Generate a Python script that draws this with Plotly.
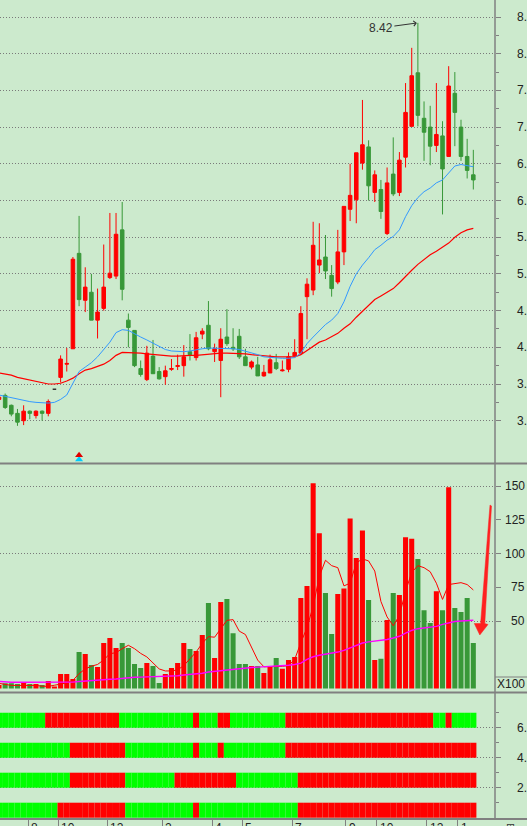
import plotly.graph_objects as go

# ---- data (weekly bars, index 0..77) ----
bar_idx = list(range(78))

opens = [3.29, 3.345, 3.21, 3.10, 3.00, 3.13, 3.07, 3.13, 3.10, 3.43,
         3.59, 3.77, 3.98, 5.28, 4.64, 4.75, 4.37, 4.53, 4.95, 4.97,
         5.60, 4.37, 4.23, 3.71, 3.56, 3.88, 3.67, 3.60, 3.70, 3.74,
         3.75, 3.94, 3.86, 4.18, 4.30, 3.94, 3.82, 4.14, 4.00, 4.15,
         3.87, 3.73, 3.76, 3.61, 3.65, 3.79, 3.68, 3.70, 3.88, 3.92,
         4.69, 4.78, 5.12, 5.23, 4.98, 4.89, 5.30, 5.88, 6.01, 6.51,
         6.73, 6.11, 6.15, 5.55, 6.36, 6.11, 6.59, 7.01, 7.74, 7.12,
         7.00, 6.75, 6.88, 6.60, 7.46, 7.00, 6.60, 6.35]
highs = [3.33, 3.37, 3.22, 3.16, 3.21, 3.14, 3.14, 3.14, 3.29, 3.43,
         3.89, 3.99, 5.23, 5.79, 5.09, 5.00, 4.80, 5.40, 5.83, 5.83,
         5.98, 4.46, 4.23, 3.82, 4.02, 4.10, 3.73, 3.75, 3.84, 3.90,
         4.03, 4.18, 4.21, 4.26, 4.63, 4.05, 4.26, 4.52, 4.26, 4.25,
         3.98, 3.82, 3.87, 3.76, 3.90, 3.91, 3.82, 3.93, 4.11, 4.56,
         4.94, 5.71, 5.69, 5.53, 5.12, 5.60, 5.92, 6.50, 6.65, 7.37,
         6.82, 6.41, 6.28, 6.45, 6.86, 6.66, 7.60, 8.08, 8.42, 7.35,
         7.29, 7.60, 7.08, 7.83, 7.75, 7.10, 6.84, 6.69]
lows = [3.27, 3.16, 3.06, 2.93, 2.94, 3.02, 3.03, 3.00, 3.06, 3.43,
        3.52, 3.67, 3.98, 4.56, 4.48, 4.37, 4.12, 4.50, 4.93, 4.93,
        4.64, 4.00, 3.73, 3.60, 3.54, 3.64, 3.56, 3.49, 3.68, 3.69,
        3.60, 3.82, 3.82, 4.11, 3.96, 3.80, 3.32, 4.02, 3.95, 3.84,
        3.75, 3.70, 3.61, 3.60, 3.65, 3.69, 3.67, 3.66, 3.88, 3.91,
        4.11, 4.71, 5.01, 4.93, 4.69, 4.86, 5.12, 5.72, 5.69, 6.42,
        6.00, 5.98, 5.75, 5.53, 6.06, 6.06, 6.45, 7.01, 7.01, 6.54,
        6.48, 6.66, 5.81, 6.60, 6.74, 6.54, 6.30, 6.15]
closes = [3.32, 3.18, 3.09, 2.98, 3.13, 3.10, 3.13, 3.10, 3.26, 3.43,
          3.84, 3.78, 5.20, 4.65, 4.82, 4.37, 4.48, 4.82, 5.01, 5.54,
          4.79, 4.27, 3.75, 3.63, 3.92, 3.64, 3.57, 3.68, 3.71, 3.75,
          3.87, 3.90, 4.13, 4.22, 3.98, 3.98, 4.11, 4.05, 3.98, 3.87,
          3.75, 3.80, 3.61, 3.66, 3.83, 3.71, 3.69, 3.87, 3.93, 4.46,
          4.86, 5.39, 5.19, 5.04, 4.80, 5.30, 5.92, 6.07, 6.65, 6.76,
          6.20, 6.35, 5.85, 6.24, 6.09, 6.55, 7.20, 7.70, 7.16, 6.93,
          6.74, 6.90, 6.43, 7.56, 7.20, 6.60, 6.41, 6.28]

ma_fast = [3.35, 3.33, 3.31, 3.29, 3.28, 3.26, 3.25, 3.24, 3.24, 3.25,
           3.29, 3.35, 3.52, 3.67, 3.73, 3.79, 3.87, 3.97, 4.07, 4.20,
           4.24, 4.23, 4.18, 4.14, 4.10, 4.06, 4.01, 3.97, 3.95, 3.94,
           3.94, 3.95, 3.97, 3.98, 3.99, 3.99, 3.99, 3.99, 3.98, 3.97,
           3.95, 3.93, 3.90, 3.87, 3.86, 3.86, 3.85, 3.85, 3.86, 3.92,
           4.05, 4.14, 4.23, 4.31, 4.37, 4.46, 4.62, 4.83, 5.00, 5.12,
           5.22, 5.33, 5.39, 5.46, 5.51, 5.60, 5.78, 5.93, 6.04, 6.12,
           6.17, 6.24, 6.28, 6.37, 6.47, 6.49, 6.48, 6.46]
ma_slow = [3.65, 3.64, 3.62, 3.59, 3.57, 3.56, 3.53, 3.52, 3.50, 3.50,
           3.51, 3.54, 3.58, 3.64, 3.69, 3.71, 3.74, 3.77, 3.82, 3.89,
           3.93, 3.93, 3.93, 3.92, 3.91, 3.90, 3.89, 3.88, 3.88, 3.88,
           3.89, 3.89, 3.89, 3.90, 3.91, 3.92, 3.92, 3.92, 3.92, 3.92,
           3.91, 3.90, 3.89, 3.88, 3.88, 3.87, 3.87, 3.87, 3.87, 3.90,
           3.96, 4.02, 4.07, 4.10, 4.14, 4.19, 4.26, 4.32, 4.41, 4.49,
           4.57, 4.65, 4.70, 4.75, 4.80, 4.88, 4.97, 5.05, 5.13, 5.20,
           5.26, 5.31, 5.36, 5.42, 5.50, 5.56, 5.60, 5.62]

volume = [2.6, 3.8, 3.8, 3.3, 4.8, 3.3, 3.3, 2.6, 5.6, 1.3,
          10.7, 10.7, 7.0, 27.0, 25.5, 17.4, 15.9, 33.7, 37.4, 30.0,
          33.7, 30.0, 18.1, 15.2, 18.9, 16.7, 4.1, 10.7, 15.2, 18.9,
          33.7, 29.3, 27.8, 39.6, 63.3, 22.6, 64.0, 66.3, 41.0, 18.1,
          18.1, 16.7, 16.7, 11.5, 16.7, 22.6, 14.7, 21.1, 23.3, 67.0,
          76.0, 152.0, 115.0, 70.7, 40.4, 70.0, 74.0, 126.0, 96.7, 117.0,
          65.6, 21.1, 22.0, 50.7, 70.7, 69.3, 112.0, 111.0, 95.9, 58.0,
          48.5, 72.0, 58.0, 149.0, 59.6, 56.7, 67.0, 33.7]
vol_ma_short = [3.8, 2.8, 2.3, 2.3, 2.3, 2.3, 2.3, 1.7, 1.6, 2.4,
                3.3, 4.2, 6.0, 11.0, 14.5, 16.5, 17.8, 21.2, 25.8, 26.5,
                29.5, 32.0, 29.5, 26.0, 23.4, 18.7, 14.5, 13.0, 13.0, 13.8,
                17.0, 22.0, 27.0, 33.5, 38.4, 38.0, 44.0, 50.5, 51.0, 42.5,
                40.0, 31.0, 21.0, 16.1, 16.1, 16.1, 16.4, 17.0, 21.5, 34.0,
                45.0, 61.0, 83.0, 95.0, 91.0, 89.5, 76.0, 78.0, 93.0, 96.0,
                94.5, 87.0, 64.5, 53.0, 46.5, 54.0, 72.0, 86.0, 91.0, 89.5,
                86.5, 78.0, 66.0, 77.0, 77.8, 78.4, 77.0, 73.0]
vol_ma_long = [5.3, 4.8, 4.6, 4.6, 4.6, 4.6, 4.6, 4.6, 4.6, 4.6,
               4.6, 4.6, 4.7, 5.2, 5.6, 5.8, 6.2, 6.4, 6.8, 7.0,
               7.5, 8.2, 8.3, 8.4, 8.5, 8.9, 9.0, 9.1, 9.2, 9.4,
               10.0, 10.4, 10.8, 11.3, 12.2, 12.7, 13.0, 14.0, 14.5, 14.9,
               15.0, 15.6, 15.8, 16.0, 16.4, 16.6, 16.8, 17.2, 17.8, 18.8,
               21.5, 23.5, 24.6, 25.3, 26.0, 27.0, 28.3, 30.2, 32.0, 33.7,
               34.5, 35.0, 35.5, 36.3, 37.4, 38.7, 41.0, 43.0, 44.3, 44.9,
               45.1, 46.0, 47.5, 48.8, 49.6, 50.0, 50.5, 50.5]

# bottom indicator: 1 = red, 0 = green, one row per level
strip_levels = [6, 4, 2, 0]
strip_rows = [
    [0,0,0,0,0,0,0,0,1,1, 1,1,1,1,1,1,1,1,1,1, 0,0,0,0,0,0,0,0,0,0,
     0,0,1,0,0,0,1,1,0,0, 0,0,0,0,0,0,0,1,1,1, 1,1,1,1,1,1,1,1,1,1,
     1,1,1,1,1,1,1,1,1,1, 1,0,0,1,0,0,0,0],
    [0,0,0,0,0,0,0,0,0,0, 0,0,1,1,1,1,1,1,1,1, 1,0,0,0,0,0,0,0,0,0,
     0,0,1,0,0,0,1,0,0,0, 0,0,0,0,0,0,0,1,1,1, 1,1,1,1,1,1,1,1,1,1,
     1,1,1,1,1,1,1,1,1,1, 1,1,1,1,1,1,1,1],
    [0,0,0,0,0,0,0,0,0,0, 0,0,1,1,1,1,1,1,1,1, 1,0,0,0,0,0,0,0,0,1,
     1,1,1,1,1,1,1,1,1,0, 0,0,0,0,0,0,0,0,0,1, 1,1,1,1,1,1,1,1,1,1,
     1,1,1,1,1,1,1,1,1,1, 1,1,1,1,1,1,1,1],
    [0,0,0,0,0,0,0,0,0,0, 1,1,1,1,1,1,1,1,1,1, 1,0,0,0,0,0,0,0,0,0,
     0,0,1,0,0,0,0,0,0,0, 0,0,0,0,0,0,0,0,0,1, 1,1,1,1,1,1,1,1,1,1,
     1,1,1,1,1,1,1,1,1,1, 1,1,1,1,1,1,1,1],
]

price_ticks = [3.0, 3.5, 4.0, 4.5, 5.0, 5.5, 6.0, 6.5, 7.0, 7.5, 8.0, 8.5]
price_labels = ["3.", "3.", "4.", "4.", "5.", "5.", "6.", "6.", "7.", "7.", "8.", "8."]
vol_ticks = [50, 75, 100, 125, 150]
ind_ticks = [2, 4, 6]
ind_labels = ["2.", "4.", "6."]
month_pos = [4.76, 9.63, 17.58, 26.51, 34.63, 39.5, 47.61, 56.28, 61.31, 69.43, 74.46]
month_labels = ["8", "10", "12", "2", "4", "5", "7", "9", "10", "12", "1"]

signal_bar = [13]
signal_red = [2.53]
signal_cyan = [2.47]
peak_bar, peak_val = 68, 8.42

# ---- styles ----
W, H = 527, 826
BG = "#CCEACD"
RED = "#FF0000"
GREEN = "#389838"
STRIP_GREEN = "#00FF00"
BLUE = "#3399FF"
MAGENTA = "#FF00FF"
AXIS = "#808080"
GRID = "#7A7A7A"
FONT = "Liberation Sans, Arial, sans-serif"


def px(x):
    return x / W


def py(y):
    return (H - y) / H


PLOT_R = 495
XR = [0.1623, 80.52]

fig = go.Figure()

normal = [i for i in bar_idx if not (opens[i] == closes[i] == highs[i] == lows[i])]
flat = [i for i in bar_idx if i not in normal]

fig.add_trace(go.Candlestick(
    x=normal, open=[opens[i] for i in normal], high=[highs[i] for i in normal],
    low=[lows[i] for i in normal], close=[closes[i] for i in normal],
    increasing=dict(line=dict(color=RED, width=1), fillcolor=RED),
    decreasing=dict(line=dict(color=GREEN, width=1), fillcolor=GREEN),
    xaxis="x", yaxis="y", hoverinfo="skip"))
fig.add_trace(go.Candlestick(
    x=flat, open=[opens[i] for i in flat], high=[highs[i] for i in flat],
    low=[lows[i] for i in flat], close=[closes[i] for i in flat],
    increasing=dict(line=dict(color="#333333", width=1.5), fillcolor="#333333"),
    decreasing=dict(line=dict(color="#333333", width=1.5), fillcolor="#333333"),
    xaxis="x", yaxis="y", hoverinfo="skip"))
fig.add_trace(go.Scatter(x=bar_idx, y=ma_slow, mode="lines",
                         line=dict(color=RED, width=1.2), xaxis="x", yaxis="y"))
fig.add_trace(go.Scatter(x=bar_idx, y=ma_fast, mode="lines",
                         line=dict(color=BLUE, width=1), xaxis="x", yaxis="y"))
fig.add_trace(go.Scatter(x=signal_bar, y=signal_cyan, mode="markers",
                         marker=dict(symbol="triangle-up", size=7, color="#00CCFF"),
                         xaxis="x", yaxis="y"))
fig.add_trace(go.Scatter(x=signal_bar, y=signal_red, mode="markers",
                         marker=dict(symbol="triangle-up", size=7, color="#E00000"),
                         xaxis="x", yaxis="y"))

vol_colors = [RED if c >= o else GREEN for o, c in zip(opens, closes)]
fig.add_trace(go.Bar(x=bar_idx, y=volume, width=0.82, marker=dict(color=vol_colors, line=dict(width=0)),
                     xaxis="x2", yaxis="y2"))
fig.add_trace(go.Scatter(x=bar_idx, y=vol_ma_short, mode="lines",
                         line=dict(color=RED, width=1), xaxis="x2", yaxis="y2"))
fig.add_trace(go.Scatter(x=bar_idx, y=vol_ma_long, mode="lines",
                         line=dict(color=MAGENTA, width=1.4), xaxis="x2", yaxis="y2"))

for lvl, row in zip(strip_levels, strip_rows):
    fig.add_trace(go.Bar(x=bar_idx, y=[1] * len(row), base=lvl, width=1.0,
                         marker=dict(color=[RED if v else STRIP_GREEN for v in row], line=dict(width=0)),
                         xaxis="x3", yaxis="y3"))

XD = [0, PLOT_R / W]
common_x = dict(range=XR, showgrid=False, zeroline=False, showticklabels=False,
                showline=False, ticks="", fixedrange=True)
common_y = dict(side="right", showline=False, zeroline=False, showticklabels=False,
                ticks="outside", ticklen=5, tickcolor=AXIS, tickwidth=1,
                showgrid=True, gridcolor=GRID, gridwidth=1, griddash="1px,2px",
                fixedrange=True)

fig.update_layout(
    width=W, height=H, margin=dict(l=0, r=0, t=0, b=0),
    paper_bgcolor=BG, plot_bgcolor=BG, showlegend=False,
    barmode="overlay", boxgap=0.18, hovermode=False,
    font=dict(family=FONT, size=12, color="#222222"),
    xaxis=dict(domain=XD, anchor="y", rangeslider=dict(visible=False), **common_x),
    xaxis2=dict(domain=XD, anchor="y2", matches="x", **common_x),
    xaxis3=dict(domain=XD, anchor="y3", matches="x", **{**common_x, "ticks": "outside"},
                tickvals=month_pos, ticklen=8, tickcolor=AXIS, tickwidth=1),
    yaxis=dict(domain=[py(463.5), 1], anchor="x",
               range=[8.5 - (463.5 - 17) / 73.4, 8.5 + 17 / 73.4],
               tickvals=price_ticks,
               minor=dict(tickvals=[t + 0.25 for t in price_ticks[:-1]], ticks="outside",
                          ticklen=3, tickcolor=AXIS, showgrid=False),
               **common_y),
    yaxis2=dict(domain=[py(692.5), py(463.5)], anchor="x2",
                range=[(688.5 - 692.5) / 1.35, (688.5 - 463.5) / 1.35],
                tickvals=[50, 100, 150],
                minor=dict(tickvals=[75, 125], ticks="outside", ticklen=5,
                           tickcolor=AXIS, showgrid=False),
                **common_y),
    yaxis3=dict(domain=[py(819), py(692.5)], anchor="x3",
                range=[(817.7 - 819) / 15, (817.7 - 692.5) / 15],
                tickvals=ind_ticks,
                minor=dict(tickvals=[1, 3, 5, 7], ticks="outside", ticklen=3,
                           tickcolor=AXIS, showgrid=False),
                **common_y),
)

annotations = []
for v, t in zip(price_ticks, price_labels):
    annotations.append(dict(x=px(516), y=v, xref="paper", yref="y", text=t, showarrow=False,
                            xanchor="left", yanchor="middle", borderpad=0))
for v in vol_ticks:
    annotations.append(dict(x=px(526), y=v, xref="paper", yref="y2", text=str(v), showarrow=False,
                            xanchor="right", yanchor="middle", borderpad=0))
annotations.append(dict(x=px(526), y=py(684), xref="paper", yref="paper", text="X100",
                        showarrow=False, xanchor="right", yanchor="middle", borderpad=0))
for v, t in zip(ind_ticks, ind_labels):
    annotations.append(dict(x=px(516), y=v, xref="paper", yref="y3", text=t, showarrow=False,
                            xanchor="left", yanchor="middle", borderpad=0))
for p, t in zip(month_pos, month_labels):
    annotations.append(dict(x=p + 0.3, y=py(820), xref="x3", yref="paper", text=t,
                            showarrow=False, xanchor="left", yanchor="top", borderpad=0))
annotations.append(dict(x=px(505), y=py(820), xref="paper", yref="paper", text="⊞",
                        showarrow=False, xanchor="left", yanchor="top", borderpad=0,
                        font=dict(family="DejaVu Sans", size=11, color="#333333")))
annotations.append(dict(x=peak_bar, y=peak_val, xref="x", yref="y", text="8.42",
                        showarrow=True, ax=-37, ay=5, arrowhead=4, arrowsize=1,
                        arrowwidth=1, arrowcolor="#333333", standoff=1,
                        font=dict(color="#333333", size=12)))
fig.update_layout(annotations=annotations)

line = dict(color=AXIS, width=2)
shapes = [
    dict(type="line", xref="paper", yref="paper", x0=0, x1=1, y0=py(463.5), y1=py(463.5), line=line),
    dict(type="line", xref="paper", yref="paper", x0=0, x1=1, y0=py(692.5), y1=py(692.5), line=line),
    dict(type="line", xref="paper", yref="paper", x0=0, x1=1, y0=py(819), y1=py(819), line=line),
    dict(type="line", xref="paper", yref="paper", x0=px(PLOT_R), x1=px(PLOT_R), y0=py(819), y1=1,
         line=dict(color=AXIS, width=1.5)),
    dict(type="line", xref="paper", yref="paper", x0=px(PLOT_R), x1=1, y0=py(677), y1=py(677),
         line=dict(color=AXIS, width=1)),
    # hand-drawn red arrow on the volume pane
    dict(type="path", xref="paper", yref="paper", layer="above",
         path="M {} {} L {} {} L {} {} L {} {} L {} {} L {} {} L {} {} Z".format(
             px(490), py(505), px(491.5), py(506), px(484.8), py(623.5), px(488), py(624.5),
             px(479.8), py(635), px(474.3), py(623.5), px(480.6), py(623.5)),
         fillcolor="#FF2020", line=dict(color="#FF2020", width=0.5)),
]
fig.update_layout(shapes=shapes)

# the page body has a default 8px margin; drop it so the figure sits at the window corner
fig.write_html("out.html", config={"displayModeBar": False},
               post_script="document.body.style.margin='0';document.body.style.overflow='hidden';")
